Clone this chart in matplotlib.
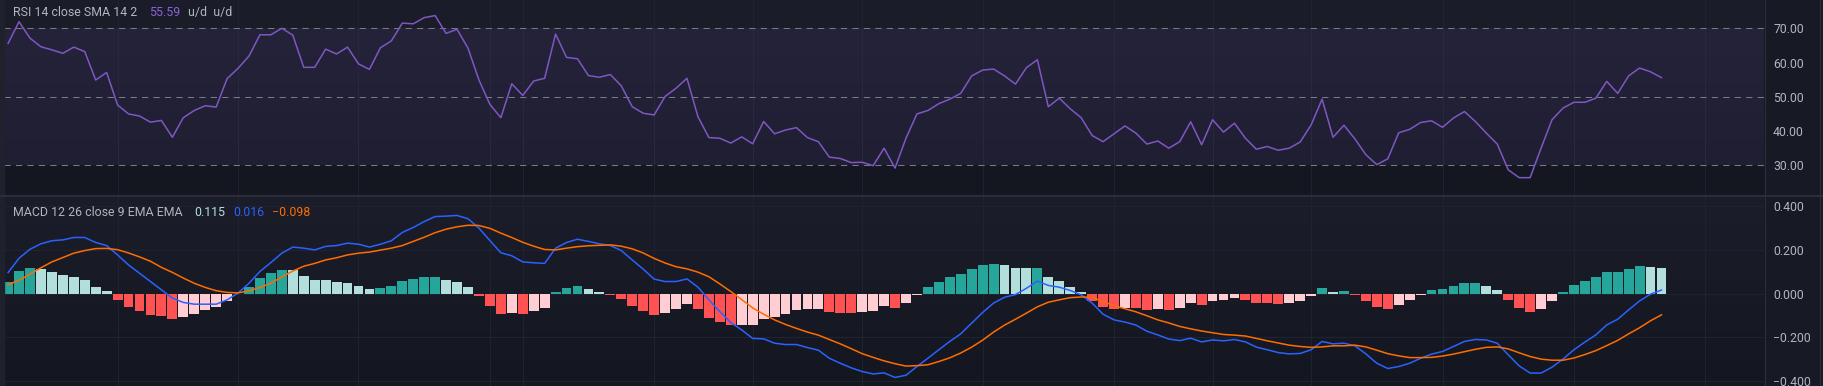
import numpy as np
import matplotlib
matplotlib.use("Agg")
import matplotlib.pyplot as plt
from matplotlib.colors import LinearSegmentedColormap
from matplotlib.lines import Line2D
from matplotlib.patches import Rectangle

# RSI(14) per bar
rsi = [
    65.6, 71.9, 67.1, 64.6, 63.7, 62.7, 64.5, 63.2, 54.9, 57.1,
    47.6, 45.0, 44.4, 42.6, 43.1, 38.2, 43.9, 46.0, 47.4, 47.0,
    55.3, 58.3, 61.9, 68.1, 68.1, 70.0, 68.0, 58.6, 58.6, 63.9,
    62.5, 64.5, 59.6, 58.0, 64.3, 66.3, 71.5, 71.3, 73.1, 73.7,
    68.5, 69.7, 64.2, 54.9, 47.8, 43.9, 53.8, 50.4, 54.6, 55.4,
    68.3, 61.5, 61.1, 56.2, 55.7, 56.5, 53.2, 47.1, 45.2, 44.7,
    50.1, 52.5, 55.4, 44.2, 38.1, 37.9, 36.5, 38.3, 36.3, 42.8,
    39.2, 40.3, 41.0, 38.1, 36.9, 32.4, 32.0, 30.8, 30.9, 29.9,
    35.0, 29.2, 37.9, 45.0, 46.0, 48.0, 49.3, 51.0, 56.1, 57.8,
    58.1, 56.1, 53.7, 58.5, 60.8, 47.1, 49.6, 46.5, 43.9, 38.7,
    36.9, 39.2, 41.5, 39.4, 36.2, 37.1, 35.0, 36.9, 42.7, 36.0,
    43.3, 39.7, 42.3, 37.9, 34.7, 35.5, 34.4, 35.0, 36.8, 41.8,
    49.3, 38.2, 41.7, 37.7, 33.1, 30.2, 31.9, 39.5, 40.5, 42.5,
    43.0, 41.1, 43.8, 45.7, 42.8, 39.4, 36.2, 28.7, 26.4, 26.4,
    35.0, 43.3, 46.7, 48.4, 48.4, 49.6, 54.5, 51.0, 56.1, 58.4,
    57.3, 55.59,
]

# MACD(12, 26, 9) histogram per bar
hist = [
    0.054, 0.105, 0.118, 0.113, 0.099, 0.086, 0.075, 0.063, 0.029, 0.012,
    -0.028, -0.061, -0.080, -0.098, -0.102, -0.116, -0.107, -0.093, -0.075, -0.061,
    -0.034, 0.0, 0.031, 0.072, 0.095, 0.109, 0.108, 0.081, 0.064, 0.063,
    0.054, 0.049, 0.035, 0.021, 0.026, 0.035, 0.058, 0.067, 0.076, 0.077,
    0.063, 0.054, 0.031, -0.011, -0.057, -0.093, -0.089, -0.093, -0.080, -0.066,
    0.008, 0.026, 0.035, 0.021, 0.008, -0.006, -0.024, -0.057, -0.080, -0.098,
    -0.089, -0.070, -0.047, -0.070, -0.112, -0.130, -0.146, -0.145, -0.144, -0.116,
    -0.107, -0.093, -0.075, -0.070, -0.069, -0.084, -0.089, -0.090, -0.084, -0.080,
    -0.057, -0.066, -0.043, -0.006, 0.031, 0.054, 0.076, 0.090, 0.113, 0.131,
    0.136, 0.131, 0.118, 0.117, 0.119, 0.076, 0.058, 0.031, 0.008, -0.034,
    -0.061, -0.070, -0.066, -0.067, -0.075, -0.070, -0.075, -0.066, -0.043, -0.052,
    -0.034, -0.029, -0.020, -0.029, -0.043, -0.044, -0.047, -0.043, -0.034, -0.011,
    0.026, 0.008, 0.012, -0.006, -0.034, -0.061, -0.070, -0.052, -0.029, -0.006,
    0.017, 0.021, 0.035, 0.049, 0.050, 0.035, 0.017, -0.029, -0.066, -0.084,
    -0.070, -0.034, 0.008, 0.040, 0.058, 0.076, 0.099, 0.100, 0.113, 0.127,
    0.122, 0.115,
]

macd = [
    0.096, 0.162, 0.203, 0.228, 0.242, 0.246, 0.257, 0.257, 0.234, 0.220,
    0.177, 0.131, 0.093, 0.055, 0.017, -0.021, -0.041, -0.049, -0.049, -0.049,
    -0.029, 0.002, 0.047, 0.101, 0.142, 0.185, 0.213, 0.208, 0.200, 0.216,
    0.220, 0.231, 0.226, 0.213, 0.226, 0.242, 0.280, 0.303, 0.330, 0.353,
    0.355, 0.358, 0.343, 0.300, 0.243, 0.187, 0.173, 0.145, 0.141, 0.138,
    0.208, 0.234, 0.249, 0.239, 0.228, 0.220, 0.197, 0.154, 0.112, 0.066,
    0.055, 0.055, 0.067, 0.029, -0.029, -0.083, -0.133, -0.167, -0.206, -0.208,
    -0.228, -0.234, -0.234, -0.248, -0.260, -0.297, -0.320, -0.341, -0.358, -0.369,
    -0.364, -0.385, -0.375, -0.335, -0.297, -0.258, -0.220, -0.185, -0.136, -0.087,
    -0.044, -0.017, -0.005, 0.024, 0.057, 0.037, 0.029, 0.014, -0.006, -0.044,
    -0.095, -0.121, -0.131, -0.145, -0.173, -0.190, -0.209, -0.216, -0.205, -0.222,
    -0.213, -0.217, -0.211, -0.222, -0.246, -0.258, -0.271, -0.277, -0.275, -0.258,
    -0.220, -0.231, -0.228, -0.240, -0.277, -0.320, -0.344, -0.335, -0.320, -0.297,
    -0.278, -0.266, -0.243, -0.220, -0.211, -0.213, -0.228, -0.281, -0.332, -0.365,
    -0.365, -0.338, -0.301, -0.258, -0.223, -0.190, -0.144, -0.118, -0.075, -0.034,
    -0.003, 0.016,
]

signal = [
    0.041, 0.060, 0.089, 0.118, 0.145, 0.165, 0.185, 0.197, 0.206, 0.207,
    0.201, 0.186, 0.168, 0.148, 0.120, 0.097, 0.071, 0.047, 0.028, 0.013,
    0.005, 0.003, 0.012, 0.028, 0.047, 0.076, 0.103, 0.125, 0.138, 0.154,
    0.164, 0.177, 0.185, 0.190, 0.199, 0.208, 0.220, 0.239, 0.258, 0.279,
    0.295, 0.306, 0.313, 0.312, 0.299, 0.277, 0.257, 0.235, 0.217, 0.202,
    0.200, 0.208, 0.215, 0.219, 0.221, 0.223, 0.217, 0.205, 0.186, 0.161,
    0.140, 0.123, 0.113, 0.098, 0.077, 0.044, 0.009, -0.028, -0.066, -0.095,
    -0.121, -0.142, -0.160, -0.177, -0.191, -0.211, -0.231, -0.253, -0.276, -0.293,
    -0.309, -0.322, -0.333, -0.331, -0.327, -0.312, -0.295, -0.273, -0.246, -0.214,
    -0.177, -0.145, -0.118, -0.090, -0.061, -0.040, -0.029, -0.019, -0.016, -0.017,
    -0.037, -0.056, -0.070, -0.084, -0.102, -0.121, -0.135, -0.151, -0.162, -0.172,
    -0.180, -0.188, -0.191, -0.195, -0.206, -0.217, -0.227, -0.237, -0.243, -0.247,
    -0.245, -0.240, -0.240, -0.237, -0.245, -0.260, -0.276, -0.286, -0.294, -0.294,
    -0.293, -0.287, -0.278, -0.267, -0.256, -0.247, -0.245, -0.254, -0.272, -0.289,
    -0.301, -0.306, -0.306, -0.296, -0.280, -0.262, -0.239, -0.215, -0.185, -0.157,
    -0.125, -0.098,
]

rsi_ticks = [30, 40, 50, 60, 70]
rsi_bands = [30, 50, 70]
macd_ticks = [-0.4, -0.2, 0.0, 0.2, 0.4]
# bars where the (faint) time grid lines fall
time_grid = [10, 21, 32, 44, 47, 59, 68, 78, 89, 101, 110, 119, 131, 143, 155]

W, H = 1823, 386
FONT = "Roboto"
TEXT = "#b2b5be"
GRID = "#1f2330"
BORDER = "#2a2e39"
bg_cmap = LinearSegmentedColormap.from_list("bg", ["#141720", "#1b1e2a"])


def hist_colors(values):
    colors = []
    prev = None
    for v in values:
        rising = prev is None or v > prev
        if v >= 0:
            colors.append("#26a69a" if rising else "#b2dfdb")
        else:
            colors.append("#ffcdd2" if rising else "#ff5252")
        prev = v
    return colors


def style_panel(ax, ticks, fmt, ylim):
    x0, x1 = -0.374, 160.36
    grad = np.linspace(0, 1, 256).reshape(-1, 1)
    ax.imshow(grad, cmap=bg_cmap, origin="lower", aspect="auto",
              extent=(0, 1, 0, 1), transform=ax.transAxes, zorder=0)
    for b in time_grid:
        ax.axvline(b, color=GRID, linewidth=0.8, zorder=1)
    ax.set_xlim(x0, x1)
    ax.set_ylim(*ylim)
    ax.set_xticks([])
    ax.yaxis.tick_right()
    ax.set_yticks(ticks)
    ax.set_yticklabels([fmt(t) for t in ticks], fontsize=8.8, color=TEXT, family=FONT)
    ax.tick_params(axis="y", length=0, pad=6.5)
    for s in ax.spines.values():
        s.set_visible(False)


fig = plt.figure(figsize=(W / 100, H / 100), dpi=100)
fig.patch.set_facecolor("#171a25")

n = len(rsi)
x = np.arange(n)

# RSI panel
ax_rsi = fig.add_axes([4 / W, (H - 195) / H, 1760 / W, 195 / H])
style_panel(ax_rsi, rsi_ticks, lambda t: f"{t:.2f}", (21.34, 78.25))
ax_rsi.axhspan(30, 70, color="#7e57c2", alpha=0.11, linewidth=0, zorder=1)
for lvl in rsi_bands:
    ax_rsi.axhline(lvl, color="#787b86", linewidth=0.75, linestyle=(0, (6, 5)), zorder=2)
ax_rsi.plot(x, rsi, color="#7e57c2", linewidth=1.1, zorder=3)

# MACD panel
ax_macd = fig.add_axes([4 / W, 0, 1760 / W, (H - 197) / H])
style_panel(ax_macd, macd_ticks, lambda t: f"{t:.3f}".replace("-", "\u2212"), (-0.4243, 0.4427))
for t in macd_ticks:
    ax_macd.axhline(t, color=GRID, linewidth=0.8, zorder=1)
ax_macd.bar(x, hist, width=0.9, color=hist_colors(hist), linewidth=0, zorder=2)
ax_macd.plot(x, macd, color="#2962ff", linewidth=1.1, zorder=3)
ax_macd.plot(x, signal, color="#ff6d00", linewidth=1.1, zorder=3)

# borders and separators
fig.add_artist(Line2D([0, 1], [1 - 196 / H] * 2, color=BORDER, linewidth=1.5))
fig.add_artist(Line2D([1764.5 / W] * 2, [0, 1], color=BORDER, linewidth=0.8))
fig.add_artist(Line2D([1819.5 / W] * 2, [0, 1], color=BORDER, linewidth=0.8))
fig.add_artist(Rectangle((0, 0), 3.5 / W, 1, transform=fig.transFigure, color="#1f222c"))


def header(parts, py):
    for s, px, color in parts:
        fig.text(px / W, 1 - py / H, s, color=color, fontsize=8.9, family=FONT,
                 ha="left", va="center")


header([
    ("RSI 14 close SMA 14 2", 13, TEXT),
    (f"{rsi[-1]:.2f}", 149, "#8c64d6"),
    ("u/d  u/d", 188, TEXT),
], 12.5)
header([
    ("MACD 12 26 close 9 EMA EMA", 13, TEXT),
    (f"{hist[-1]:.3f}", 194, "#b2dfdb"),
    (f"{macd[-1]:.3f}", 233, "#2962ff"),
    (f"{signal[-1]:.3f}".replace("-", "\u2212"), 272, "#ff6d00"),
], 212.5)

fig.savefig("out.png", dpi=100, facecolor=fig.get_facecolor())
